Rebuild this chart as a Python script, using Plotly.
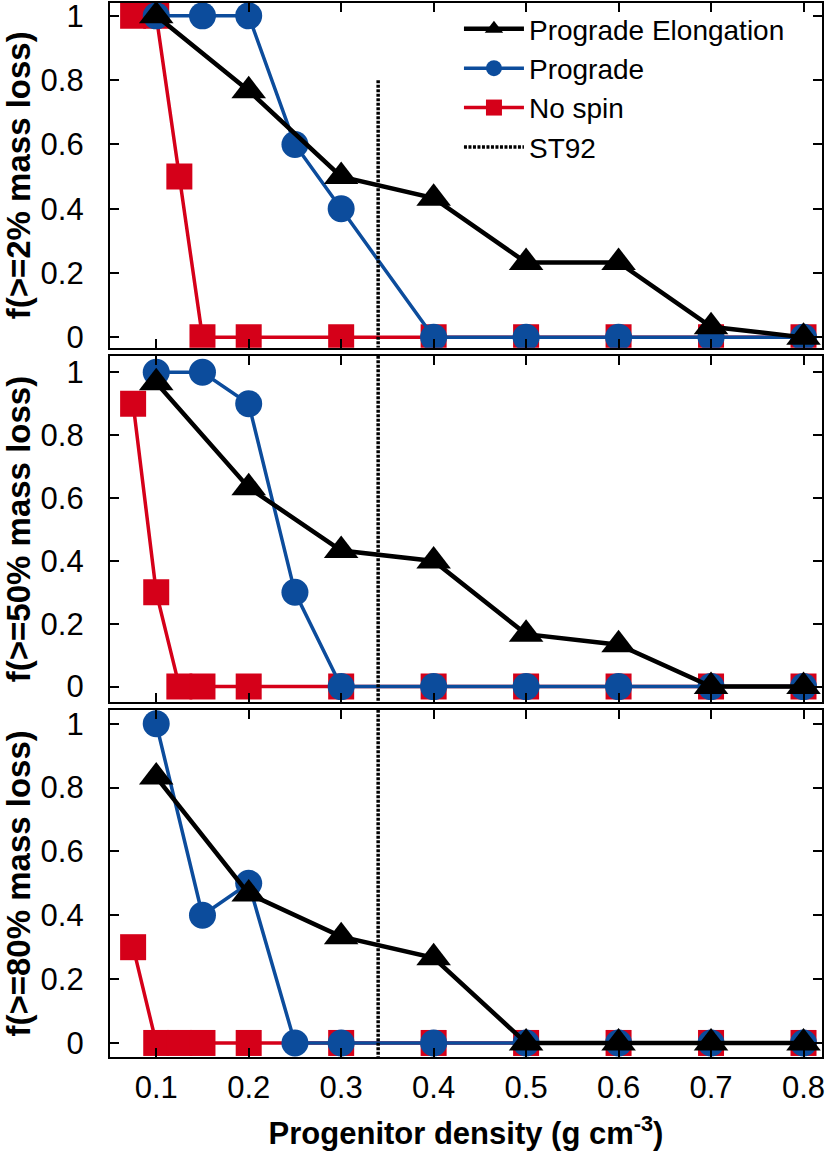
import plotly.graph_objects as go

# progenitor densities (g cm^-3)
x_elong = [0.1, 0.2, 0.3, 0.4, 0.5, 0.6, 0.7, 0.8]
x_prograde = [0.1, 0.15, 0.2, 0.25, 0.3, 0.4, 0.5, 0.6, 0.7, 0.8]
x_nospin = [0.075, 0.1, 0.125, 0.15, 0.2, 0.3, 0.4, 0.5, 0.6, 0.7, 0.8]

# fraction with >= 2%, 50%, 80% mass loss
elong_2 = [1.0, 0.767, 0.5, 0.433, 0.233, 0.233, 0.033, 0.0]
elong_50 = [0.967, 0.633, 0.433, 0.4, 0.167, 0.133, 0.0, 0.0]
elong_80 = [0.833, 0.467, 0.333, 0.267, 0.0, 0.0, 0.0, 0.0]

prograde_2 = [1.0, 1.0, 1.0, 0.6, 0.4, 0.0, 0.0, 0.0, 0.0, 0.0]
prograde_50 = [1.0, 1.0, 0.9, 0.3, 0.0, 0.0, 0.0, 0.0, 0.0, 0.0]
prograde_80 = [1.0, 0.4, 0.5, 0.0, 0.0, 0.0, 0.0, 0.0, 0.0, 0.0]

nospin_2 = [1.0, 1.0, 0.5, 0.0, 0.0, 0.0, 0.0, 0.0, 0.0, 0.0, 0.0]
nospin_50 = [0.9, 0.3, 0.0, 0.0, 0.0, 0.0, 0.0, 0.0, 0.0, 0.0, 0.0]
nospin_80 = [0.3, 0.0, 0.0, 0.0, 0.0, 0.0, 0.0, 0.0, 0.0, 0.0, 0.0]

# ST92 reference density and where its line starts in the top panel
st92_x = 0.34
st92_top = 0.8

x_ticks = [0.1, 0.2, 0.3, 0.4, 0.5, 0.6, 0.7, 0.8]
y_ticks = [0, 0.2, 0.4, 0.6, 0.8, 1]
panel_titles = ["f(>=2% mass loss)", "f(>=50% mass loss)", "f(>=80% mass loss)"]
y_ranges = [[-0.032, 1.04], [-0.05, 1.053], [-0.044, 1.044]]
domains = [[0.673, 1.0], [0.3365, 0.6654], [0.0, 0.3295]]

BLACK = "#000000"
BLUE = "#0c4c9c"
RED = "#d50019"
FONT = "Liberation Sans, Arial, sans-serif"

panels = [
    (elong_2, prograde_2, nospin_2),
    (elong_50, prograde_50, nospin_50),
    (elong_80, prograde_80, nospin_80),
]

fig = go.Figure()

for i, (el, pro, ns) in enumerate(panels):
    n = "" if i == 0 else str(i + 1)
    xa, ya = "x" + n, "y" + n
    first = i == 0
    fig.add_trace(go.Scatter(
        x=x_nospin, y=ns, xaxis=xa, yaxis=ya, name="No spin",
        mode="lines+markers", showlegend=first, legendrank=3,
        line=dict(color=RED, width=3.5),
        marker=dict(symbol="square", size=26, color=RED),
    ))
    fig.add_trace(go.Scatter(
        x=x_prograde, y=pro, xaxis=xa, yaxis=ya, name="Prograde",
        mode="lines+markers", showlegend=first, legendrank=2,
        line=dict(color=BLUE, width=3.5),
        marker=dict(symbol="circle", size=27, color=BLUE),
    ))
    fig.add_trace(go.Scatter(
        x=x_elong, y=el, xaxis=xa, yaxis=ya, name="Prograde Elongation",
        mode="lines+markers", showlegend=first, legendrank=1,
        line=dict(color=BLACK, width=4.5),
        marker=dict(symbol="triangle-up", size=30, color=BLACK),
    ))
    top = st92_top if first else y_ranges[i][1]
    fig.add_trace(go.Scatter(
        x=[st92_x, st92_x], y=[top, y_ranges[i][0]], xaxis=xa, yaxis=ya,
        name="ST92", mode="lines", showlegend=first, legendrank=4,
        line=dict(color=BLACK, width=3.5, dash="3px,1.5px"),
    ))

axis_common = dict(
    showline=True, linewidth=2.2, linecolor="black", mirror="allticks",
    ticks="inside", ticklen=9, tickwidth=2, tickcolor="black",
    showgrid=False, zeroline=False, automargin=False, ticklabeloverflow="allow",
    tickfont=dict(family=FONT, size=31, color="black"),
)

layout = dict(
    width=830, height=1158,
    margin=dict(l=110, r=8, t=3, b=101),
    plot_bgcolor="white", paper_bgcolor="white",
    font=dict(family=FONT, size=30, color="black"),
    legend=dict(
        x=0.955, y=0.999, xanchor="right", yanchor="top",
        bgcolor="rgba(0,0,0,0)", font=dict(family=FONT, size=28),
        tracegroupgap=0, itemwidth=60,
    ),
)

for i in range(3):
    n = "" if i == 0 else str(i + 1)
    layout["xaxis" + n] = dict(
        axis_common, range=[0.05, 0.82], tickvals=x_ticks,
        anchor="y" + n, showticklabels=(i == 2), ticklabelstandoff=2,
        **({} if i == 0 else {"matches": "x"}),
    )
    layout["yaxis" + n] = dict(
        axis_common, range=y_ranges[i], domain=domains[i], anchor="x" + n,
        tickvals=y_ticks, ticklabelstandoff=18,
        title=dict(text="<b>" + panel_titles[i] + "</b>", standoff=12,
                   font=dict(family=FONT, size=33)),
    )

layout["xaxis3"]["title"] = dict(
    text="<b>Progenitor density (g cm<sup>-3</sup>)</b>", standoff=18,
    font=dict(family=FONT, size=31),
)

fig.update_layout(**layout)
# drop the browser's default page margin so the figure sits at the corner
fig.write_html("out.html", config={"displayModeBar": False},
               post_script="document.body.style.margin='0';")
